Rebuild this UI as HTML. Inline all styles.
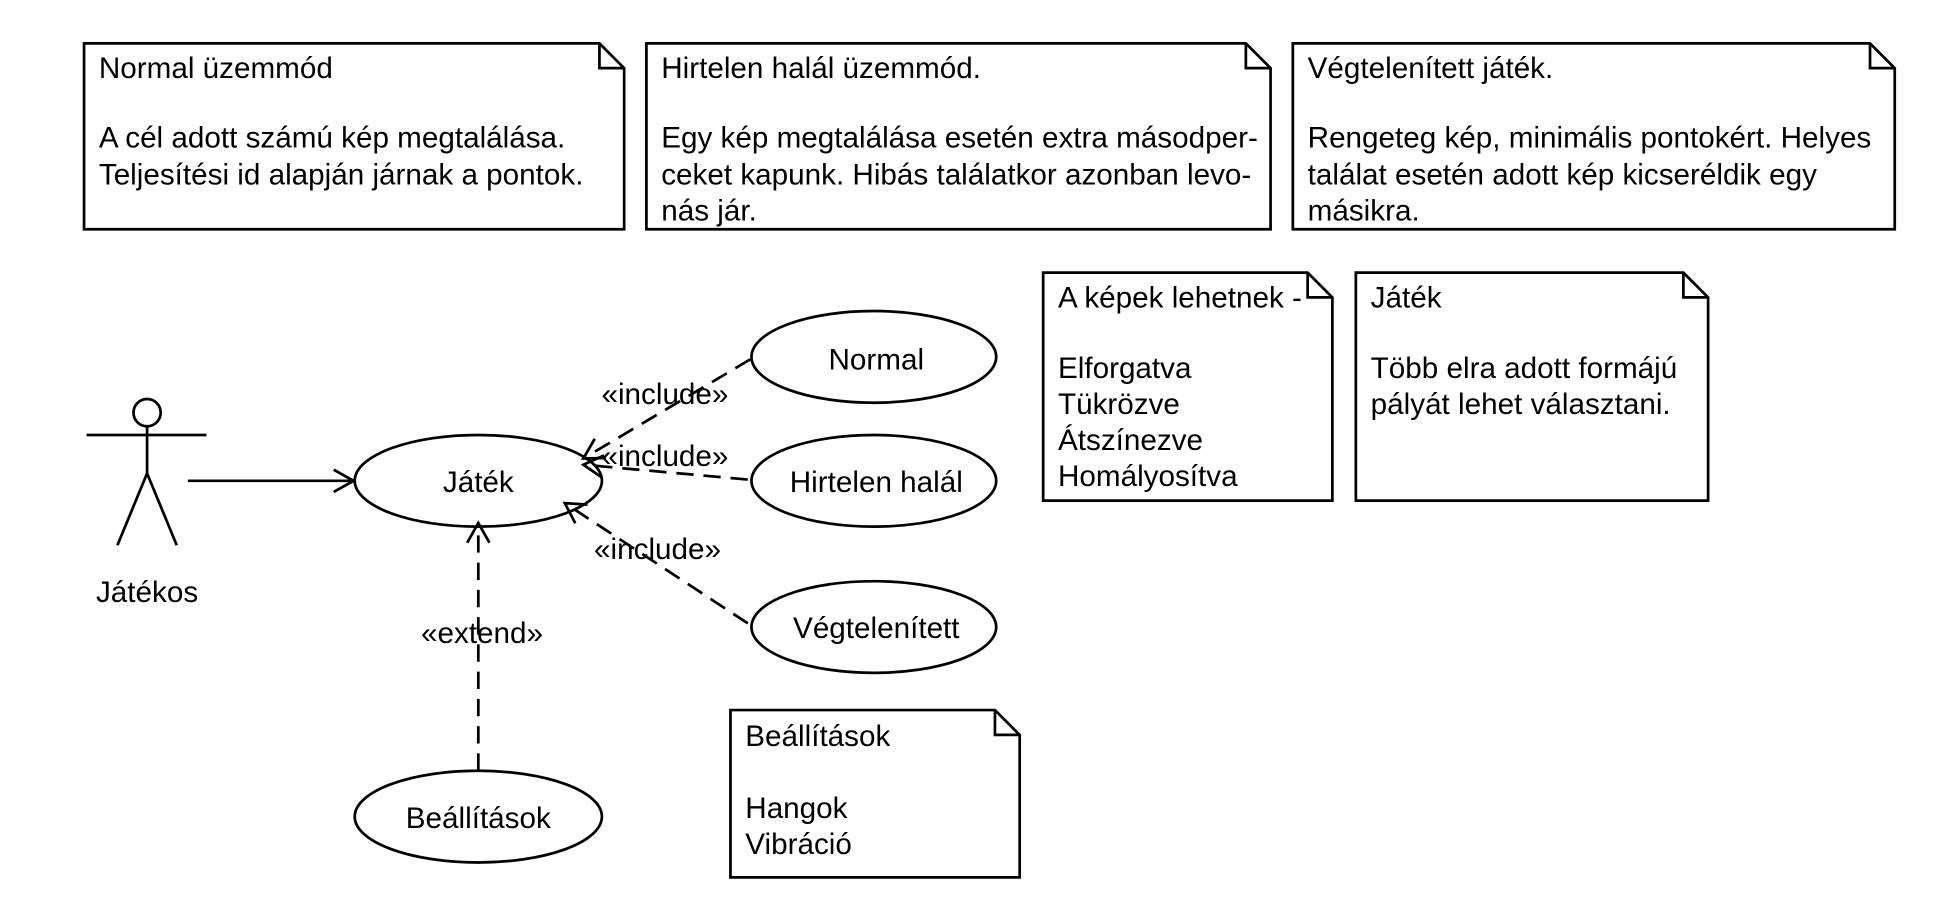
<!DOCTYPE html>
<html><head><meta charset="utf-8"><style>
html,body{margin:0;padding:0;background:#fff;}
svg{display:block;}
text{font-family:"Liberation Sans",Arial,sans-serif;font-size:24px;fill:#000;}
</style></head><body>
<svg width="1938" height="917" viewBox="0 0 1568 740" preserveAspectRatio="none" xmlns="http://www.w3.org/2000/svg">
<defs>
<marker id="oa" markerWidth="20" markerHeight="20" refX="18" refY="10" orient="auto" markerUnits="userSpaceOnUse"><path d="M2,1 L18,10 L2,19" fill="none" stroke="#000" stroke-width="2.2"/></marker>
</defs>
<g stroke="#000" stroke-width="2.2" fill="#fff">
<g><path d="M68,35 H485 L505,55 V185 H68 Z"/><path d="M485,35 V55 H505" fill="none"/></g>
<g><path d="M523,35 H1008 L1028,55 V185 H523 Z"/><path d="M1008,35 V55 H1028" fill="none"/></g>
<g><path d="M1046,35 H1513 L1533,55 V185 H1046 Z"/><path d="M1513,35 V55 H1533" fill="none"/></g>
<g><path d="M844,220 H1058 L1078,240 V404 H844 Z"/><path d="M1058,220 V240 H1078" fill="none"/></g>
<g><path d="M1097,220 H1362 L1382,240 V404 H1097 Z"/><path d="M1362,220 V240 H1382" fill="none"/></g>
<g><path d="M591,573 H805 L825,593 V708 H591 Z"/><path d="M805,573 V593 H825" fill="none"/></g>
<ellipse cx="387" cy="388" rx="100" ry="37"/>
<ellipse cx="707" cy="288" rx="99" ry="37"/>
<ellipse cx="707" cy="388" rx="99" ry="37"/>
<ellipse cx="707" cy="506" rx="99" ry="37"/>
<ellipse cx="387" cy="659" rx="100" ry="37"/>
<g fill="none">
<circle cx="119" cy="333" r="11" fill="#fff"/>
<line x1="70" y1="351" x2="167" y2="351"/>
<line x1="119" y1="344" x2="119" y2="382"/>
<line x1="119" y1="382" x2="95" y2="440"/>
<line x1="119" y1="382" x2="143" y2="440"/>
</g>
<line x1="152" y1="388" x2="286" y2="388" marker-end="url(#oa)"/>
<g fill="none" stroke-dasharray="14,8">
<line x1="607" y1="290" x2="472" y2="370" marker-end="url(#oa)"/>
<line x1="605" y1="387" x2="472" y2="375" marker-end="url(#oa)"/>
<line x1="605" y1="503" x2="457" y2="406" marker-end="url(#oa)"/>
<line x1="387" y1="622" x2="387" y2="422" marker-end="url(#oa)"/>
</g>
</g>
<text x="80" y="63">Normal üzemmód</text>
<text x="80" y="119">A cél adott számú kép megtalálása.</text>
<text x="80" y="149">Teljesítési id alapján járnak a pontok.</text>
<text x="535" y="63">Hirtelen halál üzemmód.</text>
<text x="535" y="119">Egy kép megtalálása esetén extra másodper-</text>
<text x="535" y="149">ceket kapunk. Hibás találatkor azonban levo-</text>
<text x="535" y="178">nás jár.</text>
<text x="1058" y="63">Végtelenített játék.</text>
<text x="1058" y="119">Rengeteg kép, minimális pontokért. Helyes</text>
<text x="1058" y="149">találat esetén adott kép kicseréldik egy</text>
<text x="1058" y="178">másikra.</text>
<text x="856" y="248">A képek lehetnek -</text>
<text x="856" y="305">Elforgatva</text>
<text x="856" y="334">Tükrözve</text>
<text x="856" y="363">Átszínezve</text>
<text x="856" y="392">Homályosítva</text>
<text x="1109" y="248">Játék</text>
<text x="1109" y="305">Több elra adott formájú</text>
<text x="1109" y="334">pályát lehet választani.</text>
<text x="603" y="602">Beállítások</text>
<text x="603" y="660">Hangok</text>
<text x="603" y="689">Vibráció</text>
<g text-anchor="middle">
<text x="387" y="397">Játék</text>
<text x="709" y="298">Normal</text>
<text x="709" y="397">Hirtelen halál</text>
<text x="709" y="515">Végtelenített</text>
<text x="387" y="668">Beállítások</text>
<text x="119" y="486">Játékos</text>
<text x="538" y="326">«include»</text>
<text x="538" y="376">«include»</text>
<text x="532" y="451">«include»</text>
<text x="390" y="519">«extend»</text>
</g>
</svg>
</body></html>
